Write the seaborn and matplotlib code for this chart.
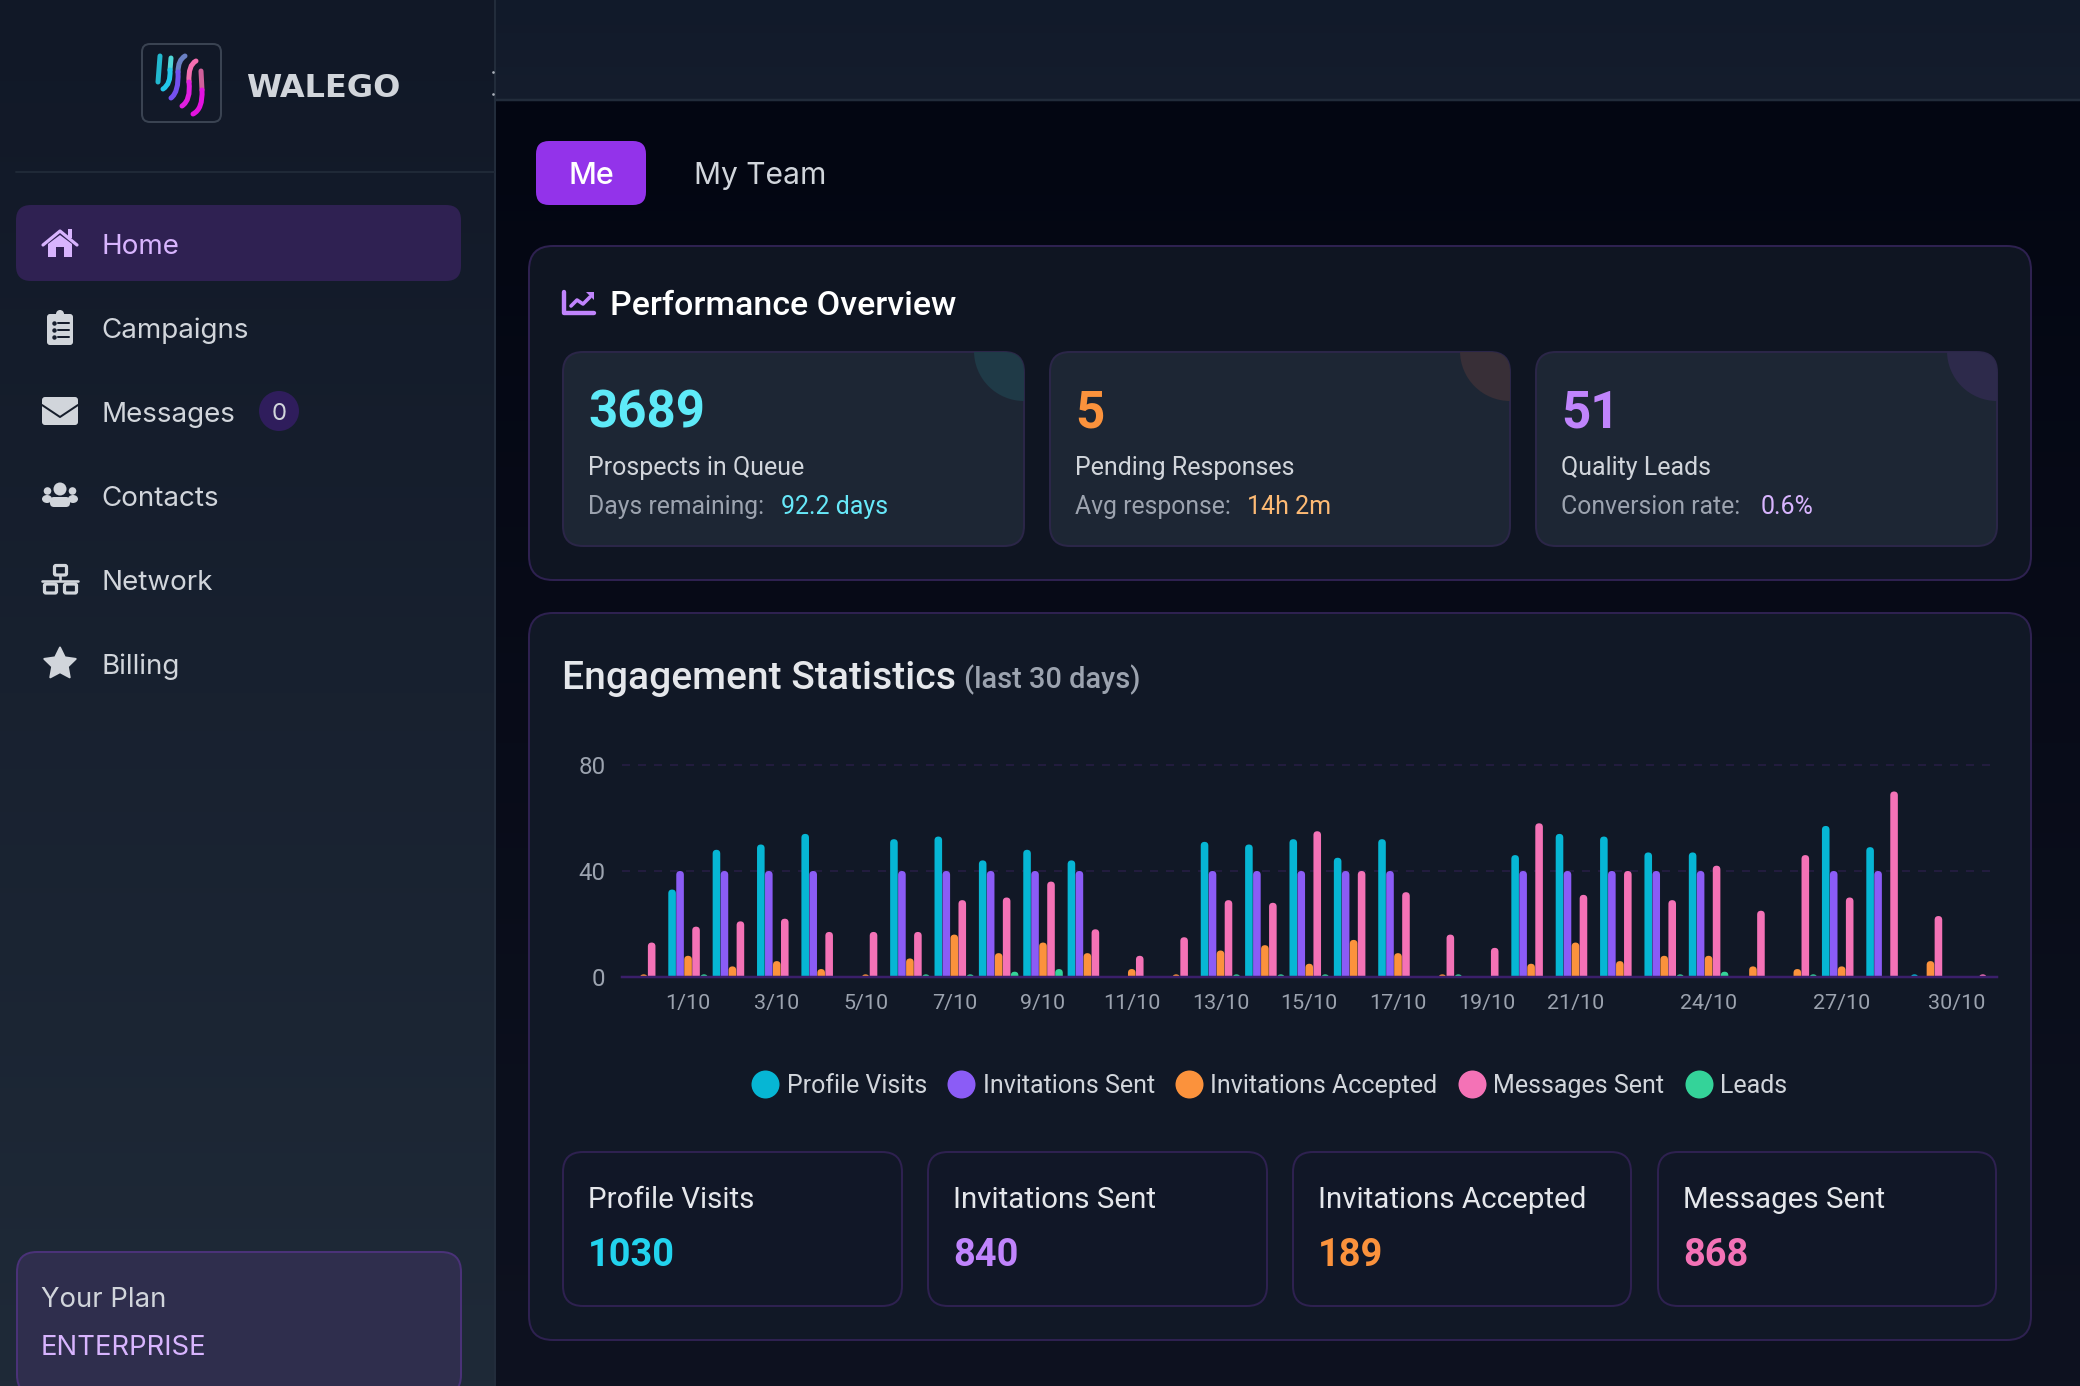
import numpy as np
import pandas as pd
import seaborn as sns
import matplotlib.pyplot as plt
from matplotlib.colors import LinearSegmentedColormap
from matplotlib.lines import Line2D
from matplotlib.patches import FancyBboxPatch, Circle, Ellipse, Polygon, PathPatch, Rectangle
from matplotlib.path import Path
from matplotlib.transforms import ScaledTranslation

# Data
days = ["30/9"] + [f"{d}/10" for d in range(1, 31)]
profile_visits = [0, 33, 48, 50, 54, 0, 52, 53, 44, 48, 44, 0, 0, 51, 50, 52,
                  45, 52, 0, 0, 46, 54, 53, 47, 47, 0, 0, 57, 49, 1, 0]
invitations_sent = [0, 40, 40, 40, 40, 0, 40, 40, 40, 40, 40, 0, 0, 40, 40, 40,
                    40, 40, 0, 0, 40, 40, 40, 40, 40, 0, 0, 40, 40, 0, 0]
invitations_accepted = [1, 8, 4, 6, 3, 1, 7, 16, 9, 13, 9, 3, 1, 10, 12, 5,
                        14, 9, 1, 0, 5, 13, 6, 8, 8, 4, 3, 4, 0, 6, 0]
messages_sent = [13, 19, 21, 22, 17, 17, 17, 29, 30, 36, 18, 8, 15, 29, 28, 55,
                 40, 32, 16, 11, 58, 31, 40, 29, 42, 25, 46, 30, 70, 23, 1]
leads = [0, 1, 0, 0, 0, 0, 1, 1, 2, 3, 0, 0, 0, 1, 1, 1,
         0, 0, 1, 0, 0, 0, 0, 1, 2, 0, 1, 0, 0, 0, 0]

series_names = ["Profile Visits", "Invitations Sent", "Invitations Accepted", "Messages Sent", "Leads"]
series_colors = ["#06b6d4", "#8b5cf6", "#fb923c", "#f472b6", "#34d399"]
shown_days = ["1/10", "3/10", "5/10", "7/10", "9/10", "11/10", "13/10", "15/10", "17/10",
              "19/10", "21/10", "24/10", "27/10", "30/10"]
y_ticks = [0, 40, 80]

nav_items = ["Home", "Campaigns", "Messages", "Contacts", "Network", "Billing"]
kpi_values = ["3689", "5", "51"]
kpi_labels = ["Prospects in Queue", "Pending Responses", "Quality Leads"]
kpi_subs = ["Days remaining:", "Avg response:", "Conversion rate:"]
kpi_extras = ["92.2 days", "14h 2m", "0.6%"]
stat_values = ["1030", "840", "189", "868"]

PX = 0.72  # 1 px in points at dpi 100
NAV_FONT = ["Inter", "DejaVu Sans"]
CARD_FONT = ["Roboto", "DejaVu Sans"]

sns.set_style("dark", {"axes.facecolor": "none", "figure.facecolor": "#030612"})
plt.rcParams["font.family"] = NAV_FONT

fig = plt.figure(figsize=(20.8, 13.86), dpi=100)

# full page layer in pixel coordinates
ui = fig.add_axes([0, 0, 1, 1], zorder=0)
ui.set_axis_off()


def gradient(x0, x1, y0, y1, top, bottom):
    cmap = LinearSegmentedColormap.from_list("g", [top, bottom])
    ui.imshow(np.linspace(0, 1, 256).reshape(-1, 1), cmap=cmap, aspect="auto",
              extent=(x0, x1, y1, y0), zorder=0)


def box(x0, y0, x1, y1, r, fill, edge="none", lw=2, z=1):
    p = FancyBboxPatch((x0, y0), x1 - x0, y1 - y0, boxstyle=f"round,pad=0,rounding_size={r}",
                       fc=fill, ec=edge, lw=lw * PX, zorder=z)
    ui.add_patch(p)
    return p


def label(x, y, s, size, color, weight="normal", family=CARD_FONT, ha="left"):
    return ui.text(x, y, s, fontsize=size * PX, color=color, fontweight=weight,
                   family=family, ha=ha, va="baseline", zorder=5)


def curve(points, color, lw=5):
    if len(points) == 2:
        codes = [Path.MOVETO, Path.LINETO]
    elif len(points) == 3:
        codes = [Path.MOVETO, Path.CURVE3, Path.CURVE3]
    else:
        codes = [Path.MOVETO, Path.CURVE4, Path.CURVE4, Path.CURVE4]
    ui.add_patch(PathPatch(Path(points, codes), fc="none", ec=color, lw=lw * PX,
                           capstyle="round", zorder=4))


gradient(495, 2080, 100, 1386, "#030612", "#0e1220")
gradient(495, 2080, 0, 100, "#111a2a", "#151d2d")
gradient(0, 494, 0, 1386, "#111827", "#1f2a38")
ui.plot([494.5, 494.5], [0, 1386], color="#222c3b", lw=2 * PX, zorder=2)
ui.plot([495, 2080], [100, 100], color="#222c3b", lw=2.5 * PX, zorder=2)
ui.plot([16, 494], [172, 172], color="#1f2937", lw=2 * PX, zorder=2)
ui.plot([493, 493], [72, 94], ls="", marker="o", ms=0.9, color="#aab0ba", zorder=3)

# logo
box(142, 44, 221, 122, 8, "none", "#3a4352", 2)
curve([(160, 56), (158, 82)], "#22b8cf")
curve([(171, 58), (170, 70)], "#4fd8d8")
curve([(170, 70), (171, 84), (163, 89)], "#22c8ea")
curve([(185, 56), (178, 60), (178, 72)], "#6a80c4")
curve([(178, 72), (179, 92), (171, 98)], "#7450f0")
curve([(196, 61), (188, 65), (189, 82)], "#f56fb0")
curve([(189, 82), (191, 100), (182, 106)], "#e01fe0")
curve([(201, 71), (202, 90)], "#d0609a")
curve([(202, 90), (203, 109), (193, 114)], "#e412e0")
label(246, 97, "WALEGO", 32, "#d1d5db", "bold", ["DejaVu Sans"])

# sidebar nav
box(16, 205, 461, 281, 15, "#2f2152", z=1)
nav_base = [254, 338, 422, 506, 590, 674]
for name, yb in zip(nav_items, nav_base):
    label(101, yb, name, 27.8, "#d8b4fe" if name == "Home" else "#d1d5db", family=NAV_FONT)

ic = "#d1d5db"
ic_dark = "#161d2c"
# home
ui.plot([43, 60, 77], [245, 231, 245], color="#d8b4fe", lw=3.2 * PX, zorder=4, solid_capstyle="round")
ui.add_patch(Polygon([(48, 244), (60, 235), (72, 244), (72, 257), (64, 257), (64, 247), (56, 247),
                      (56, 257), (48, 257)], fc="#d8b4fe", ec="none", zorder=4))
ui.add_patch(Rectangle((68, 229), 4, 9, fc="#d8b4fe", ec="none", zorder=4))
# clipboard
box(47, 314, 73, 345, 3, ic, z=4)
ui.add_patch(Circle((60, 314), 4, fc=ic, ec="none", zorder=4))
for yy in [323, 330, 337]:
    ui.plot([53.5], [yy], marker="o", ms=2.2, color=ic_dark, zorder=5)
    ui.plot([57.5, 69], [yy, yy], color=ic_dark, lw=2 * PX, zorder=5)
# envelope
box(42, 397, 78, 425, 3, ic, z=4)
ui.plot([42, 60, 78], [405, 417, 405], color=ic_dark, lw=2 * PX, zorder=5)
# contacts
ui.add_patch(Circle((60, 489), 6.5, fc=ic, ec="none", zorder=4))
ui.add_patch(Circle((47.5, 491), 3.8, fc=ic, ec="none", zorder=4))
ui.add_patch(Circle((72.5, 491), 3.8, fc=ic, ec="none", zorder=4))
ui.add_patch(Ellipse((47, 499), 10, 8, fc=ic, ec="none", zorder=4))
ui.add_patch(Ellipse((73, 499), 10, 8, fc=ic, ec="none", zorder=4))
box(50, 497, 70, 507, 4, ic, z=4)
# network
box(54.5, 565.5, 66.5, 575, 1.5, "none", ic, 3.2, z=4)
box(44.5, 584, 56.5, 593, 1.5, "none", ic, 3.2, z=4)
box(64.5, 584, 76.5, 593, 1.5, "none", ic, 3.2, z=4)
ui.plot([60, 60], [575, 580], color=ic, lw=2.6 * PX, zorder=4)
ui.plot([42, 78], [580.5, 580.5], color=ic, lw=2.6 * PX, zorder=4)
# star
star_angles = np.deg2rad(np.arange(0, 360, 36) - 90)
star_r = np.where(np.arange(10) % 2 == 0, 16.5, 8.2)
ui.add_patch(Polygon(np.c_[60 + star_r * np.cos(star_angles), 664 + star_r * np.sin(star_angles)],
                     fc=ic, ec=ic, lw=2 * PX, joinstyle="round", zorder=4))
# badge
ui.add_patch(Circle((279, 411), 20, fc="#2f1d5c", ec="none", zorder=3))
label(279, 420, "0", 24, "#d1d5db", family=NAV_FONT, ha="center")

# plan box
box(17, 1252, 461, 1395, 20, "#2f2e4d", "#4a3278", 2, z=2)
label(41, 1307, "Your Plan", 27.5, "#d1d5db", family=NAV_FONT)
label(41, 1355, "ENTERPRISE", 27.5, "#d8b4fe", family=NAV_FONT)

# tabs
box(536, 141, 646, 205, 13, "#9333ea", z=2)
label(591, 184, "Me", 30.5, "white", "medium", NAV_FONT, ha="center")
label(694, 184, "My Team", 30, "#d1d5db", family=NAV_FONT)

# performance panel
edge_purple = "#2e2150"
box(529, 246, 2031, 580, 24, "#0f1522", edge_purple, 2, z=1)
ui.plot([564, 564, 594], [292, 313, 313], color="#c084fc", lw=4.4 * PX, zorder=4)
ui.plot([571, 577, 583, 590], [306, 300, 304, 297], color="#c084fc", lw=3.6 * PX, zorder=4)
ui.add_patch(Polygon([(586, 292), (594, 292), (594, 300)], fc="#c084fc", ec="none", zorder=4))
label(610, 315, "Performance Overview", 34, "white", "medium")

card_x = [(563, 1024), (1050, 1510), (1536, 1997)]
corner_tint = ["#1f3a47", "#382f37", "#2d2a4b"]
kpi_colors = ["#5eeaf8", "#fb923c", "#c084fc"]
extra_colors = ["#67e8f9", "#fdba74", "#d8b4fe"]
extra_x = [781, 1247, 1761]
for i, (x0, x1) in enumerate(card_x):
    card = box(x0, 352, x1, 546, 20, "#1d2634", "#2b2648", 2, z=2)
    corner = Circle((x1, 351), 50, fc=corner_tint[i], ec="none", zorder=3)
    ui.add_patch(corner)
    corner.set_clip_path(card)
    tx = x0 + 25
    label(tx, 427, kpi_values[i], 51, kpi_colors[i], "bold")
    label(tx, 475, kpi_labels[i], 25, "#d1d5db")
    label(tx, 514, kpi_subs[i], 24.8, "#9ca3af")
    label(extra_x[i], 514, kpi_extras[i], 25, extra_colors[i])

# engagement panel
box(529, 613, 2031, 1340, 24, "#111826", edge_purple, 2, z=1)
label(562, 689, "Engagement Statistics", 39, "#e5e7eb", "medium")
label(964, 688, "(last 30 days)", 29, "#9ca3af", "medium")

stat_x = [(563, 902), (928, 1267), (1293, 1631), (1658, 1996)]
stat_colors = ["#22d3ee", "#c084fc", "#fb923c", "#f472b6"]
for i, (x0, x1) in enumerate(stat_x):
    box(x0, 1152, x1, 1306, 20, "#111727", edge_purple, 2, z=2)
    label(x0 + 25, 1208, series_names[i], 29.5, "#e5e7eb")
    label(x0 + 25, 1266, stat_values[i], 38, stat_colors[i], "bold")

ui.set_xlim(0, 2080)
ui.set_ylim(1386, 0)

# the chart
df = pd.DataFrame({"day": days, series_names[0]: profile_visits, series_names[1]: invitations_sent,
                   series_names[2]: invitations_accepted, series_names[3]: messages_sent,
                   series_names[4]: leads})
long_df = df.melt(id_vars="day", var_name="series", value_name="count")

W, H = 2080, 1386
ax = fig.add_axes([621.5 / W, 1 - 977 / H, (1997 - 621.5) / W, (977 - 765) / H], zorder=1)
sns.barplot(data=long_df, x="day", y="count", hue="series", hue_order=series_names, order=days,
            palette=series_colors, width=0.9, gap=0.05, legend=False, ax=ax, saturation=1)
ax.set_xlim(-0.5, len(days) - 0.5)
ax.set_ylim(0, 80)
ax.set_xlabel("")
ax.set_ylabel("")
ax.set_facecolor("none")

# round the top of the bars
sx = ax.get_window_extent().width / len(days)
sy = ax.get_window_extent().height / 80
radius_px = 3.8
for bar in list(ax.patches):
    x, w, h, c = bar.get_x(), bar.get_width(), bar.get_height(), bar.get_facecolor()
    bar.remove()
    if h <= 0:
        continue
    ry = radius_px / sy
    ax.add_patch(FancyBboxPatch((x, -ry), w, h + ry,
                                boxstyle=f"round,pad=0,rounding_size={radius_px / sx}",
                                mutation_aspect=sx / sy, fc=c, ec="none", zorder=3))

ax.set_yticks(y_ticks)
ax.set_xticks([days.index(d) for d in shown_days])
ax.set_xticklabels(shown_days)
ax.tick_params(axis="x", length=0, colors="#9ca3af", labelsize=21.5 * PX, pad=16.5 * PX)
ax.tick_params(axis="y", length=0, colors="#9ca3af", labelsize=24 * PX, pad=16 * PX)
for t in ax.get_xticklabels() + ax.get_yticklabels():
    t.set_family(CARD_FONT)
last = ax.get_xticklabels()[-1]
last.set_transform(last.get_transform() + ScaledTranslation(-18 / 100, 0, fig.dpi_scale_trans))

ax.yaxis.grid(True, color="#221c3e", ls=(0, (4, 4)), lw=2 * PX, zorder=0)
for line in ax.get_ygridlines():
    line.set_clip_on(False)
ax.xaxis.grid(False)
ax.set_axisbelow(True)
for side in ["top", "left", "right"]:
    ax.spines[side].set_visible(False)
ax.spines["bottom"].set_color("#3b1f6b")
ax.spines["bottom"].set_linewidth(2.5 * PX)
ax.spines["bottom"].set_zorder(6)

handles = [Line2D([], [], marker="o", ls="", color=c, mec="none", ms=28 * PX, label=n)
           for n, c in zip(series_names, series_colors)]
ax.legend(handles=handles, ncol=5, loc="center", bbox_to_anchor=(1270, 1086),
          bbox_transform=ui.transData, frameon=False,
          labelcolor="#d1d5db", handlelength=1.0, handletextpad=0.35, columnspacing=0.88,
          prop={"family": CARD_FONT, "size": 25 * PX})

fig.savefig("out.png", dpi=100, facecolor="#030612")
